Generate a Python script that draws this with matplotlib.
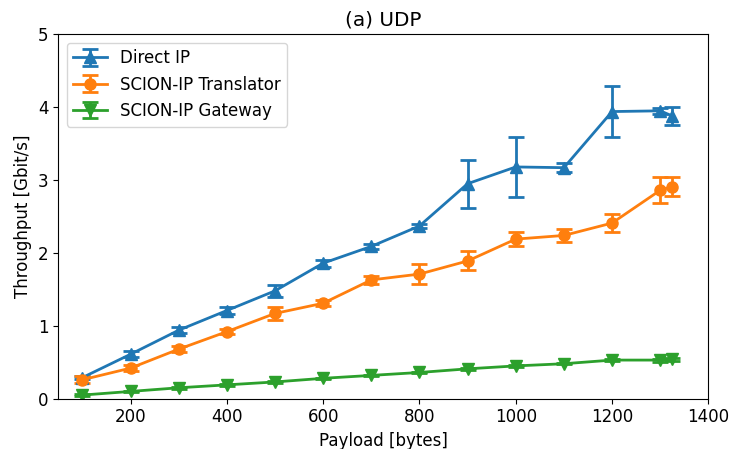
import matplotlib
matplotlib.use("Agg")
import matplotlib.pyplot as plt

payload = [100, 200, 300, 400, 500, 600, 700, 800, 900, 1000, 1100, 1200, 1300, 1325]

direct_ip = [0.29, 0.61, 0.94, 1.21, 1.48, 1.86, 2.09, 2.37, 2.95, 3.18, 3.17, 3.94, 3.95, 3.88]
direct_ip_err = [0.02, 0.04, 0.04, 0.05, 0.08, 0.05, 0.03, 0.03, 0.33, 0.41, 0.06, 0.35, 0.04, 0.12]

translator = [0.26, 0.42, 0.68, 0.92, 1.17, 1.31, 1.63, 1.71, 1.89, 2.19, 2.24, 2.41, 2.86, 2.91]
translator_err = [0.05, 0.04, 0.04, 0.03, 0.09, 0.04, 0.05, 0.14, 0.13, 0.10, 0.09, 0.12, 0.18, 0.13]

gateway = [0.05, 0.10, 0.15, 0.19, 0.23, 0.28, 0.32, 0.36, 0.41, 0.45, 0.48, 0.53, 0.53, 0.54]
gateway_err = [0.01, 0.01, 0.01, 0.01, 0.01, 0.01, 0.01, 0.01, 0.01, 0.01, 0.01, 0.01, 0.02, 0.02]

plt.rcParams['font.size'] = 12

fig = plt.figure(figsize=(7.31, 4.49), dpi=100)
ax = fig.add_axes([0.0798, 0.112, 0.969 - 0.0798, 0.9236 - 0.112])

kw = dict(capsize=6, markersize=8, linewidth=2, elinewidth=2, capthick=2)
ax.errorbar(payload, direct_ip, yerr=direct_ip_err, marker="^",
            color="#1f77b4", label="Direct IP", **kw)
ax.errorbar(payload, translator, yerr=translator_err, marker="o",
            color="#ff7f0e", label="SCION-IP Translator", **kw)
ax.errorbar(payload, gateway, yerr=gateway_err, marker="v",
            color="#2ca02c", label="SCION-IP Gateway", **kw)

ax.set_xlim(50, 1400)
ax.set_ylim(0, 5)
ax.set_xticks([200, 400, 600, 800, 1000, 1200, 1400])
ax.set_xlabel("Payload [bytes]")
ax.set_ylabel("Throughput [Gbit/s]")
ax.set_title("(a) UDP")
ax.legend(loc="upper left")

fig.savefig("out.png", dpi=100)
